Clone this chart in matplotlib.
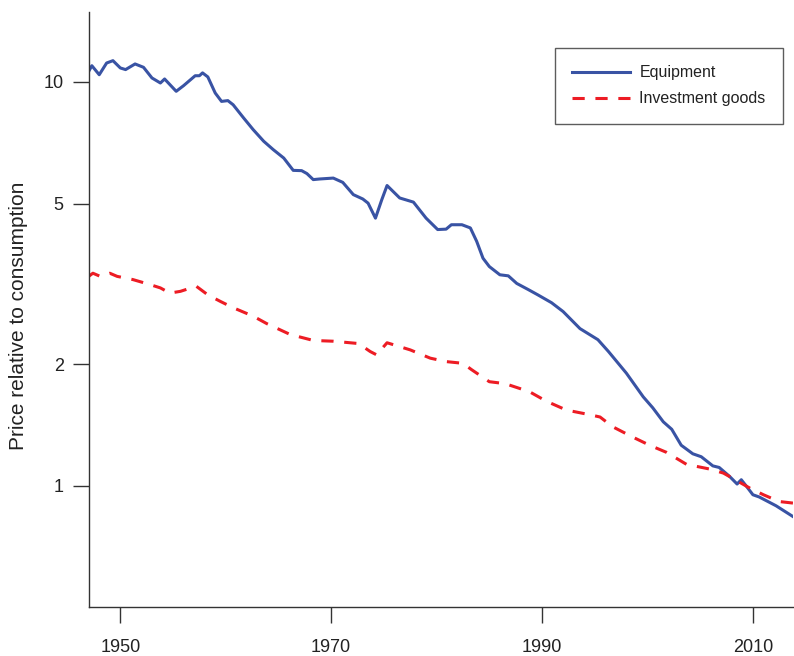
import numpy as np
import matplotlib
matplotlib.use('Agg')
from matplotlib import pyplot as plt

# values
equip_years = [1947.0, 1947.3, 1948.0, 1948.7, 1949.3, 1950.0, 1950.5, 1951.4, 1952.2, 1953.0,
               1953.8, 1954.2, 1954.7, 1955.3, 1956.0, 1957.1, 1957.5, 1957.8, 1958.3, 1959.0,
               1959.6, 1960.2, 1960.7, 1961.7, 1962.6, 1963.6, 1964.5, 1965.5, 1966.4, 1967.2,
               1967.7, 1968.3, 1968.9, 1970.2, 1971.1, 1972.1, 1973.0, 1973.5, 1974.2, 1974.8,
               1975.3, 1976.5, 1977.8, 1979.0, 1980.1, 1980.9, 1981.4, 1982.4, 1983.2, 1983.8,
               1984.4, 1985.0, 1986.0, 1986.8, 1987.6, 1988.7, 1989.6, 1990.9, 1992.0, 1993.6,
               1995.3, 1996.3, 1998.0, 1999.6, 2000.5, 2001.5, 2002.3, 2003.2, 2004.3, 2005.1,
               2006.2, 2006.8, 2007.8, 2008.5, 2008.9, 2009.4, 2010.0, 2010.6, 2012.2, 2013.8]
equipment = [10.62, 10.97, 10.42, 11.14, 11.29, 10.83, 10.73, 11.08, 10.87, 10.23,
             9.94, 10.17, 9.85, 9.48, 9.79, 10.36, 10.36, 10.53, 10.29, 9.39,
             8.95, 8.99, 8.78, 8.14, 7.62, 7.13, 6.80, 6.48, 6.04, 6.03,
             5.93, 5.73, 5.75, 5.78, 5.64, 5.26, 5.13, 5.01, 4.60, 5.11,
             5.54, 5.16, 5.04, 4.60, 4.31, 4.32, 4.43, 4.43, 4.35, 4.03,
             3.66, 3.49, 3.33, 3.31, 3.17, 3.06, 2.97, 2.84, 2.70, 2.45,
             2.30, 2.15, 1.90, 1.66, 1.56, 1.44, 1.38, 1.26, 1.20, 1.18,
             1.12, 1.11, 1.054, 1.01, 1.035, 0.996, 0.950, 0.938, 0.892, 0.839]

invest_years = [1947.0, 1947.4, 1948.1, 1949.0, 1949.7, 1951.2, 1952.8, 1953.8, 1954.7, 1955.7,
                1957.2, 1958.3, 1959.5, 1960.7, 1962.6, 1963.9, 1966.1, 1968.3, 1970.2, 1972.6,
                1973.7, 1974.3, 1975.3, 1977.5, 1979.4, 1980.9, 1982.5, 1983.3, 1985.0, 1986.5,
                1988.8, 1990.4, 1992.3, 1994.5, 1995.5, 1996.7, 1998.6, 2000.2, 2001.8, 2003.7,
                2005.9, 2007.2, 2008.6, 2009.7, 2011.0, 2012.5, 2013.8]
investment = [3.30, 3.36, 3.30, 3.36, 3.30, 3.24, 3.15, 3.09, 3.00, 3.03,
              3.12, 2.97, 2.86, 2.76, 2.63, 2.52, 2.37, 2.29, 2.28, 2.25,
              2.15, 2.11, 2.26, 2.17, 2.07, 2.03, 2.01, 1.94, 1.81, 1.79,
              1.71, 1.62, 1.54, 1.50, 1.48, 1.40, 1.32, 1.26, 1.21, 1.13,
              1.10, 1.075, 1.025, 0.987, 0.950, 0.914, 0.906]

x_ticks = [1950, 1970, 1990, 2010]
y_ticks = [1, 2, 5, 10]

plt.rcParams['font.family'] = ['Liberation Sans', 'DejaVu Sans']

fig = plt.figure(figsize=(7.94, 6.56), dpi=100)
ax = fig.add_axes([0.1117, 0.0742, 0.887, 0.9075])

ax.plot(equip_years, equipment, color='#3953a4', lw=2.2, solid_joinstyle='round',
        label='Equipment')
ax.plot(invest_years, investment, color='#ed1c24', lw=2.2, linestyle=(0, (4, 3.5)),
        dash_joinstyle='round', label='Investment goods')

ax.set_yscale('log')
ax.set_xlim(1947.0, 2013.8)
ax.set_ylim(0.5, 14.9)
ax.set_xticks(x_ticks)
ax.set_xticklabels([str(t) for t in x_ticks])
ax.set_yticks(y_ticks)
ax.set_yticklabels([str(t) for t in y_ticks])
ax.yaxis.set_minor_locator(matplotlib.ticker.NullLocator())

for s in ['top', 'right']:
    ax.spines[s].set_visible(False)
for s in ['left', 'bottom']:
    ax.spines[s].set_color('#333333')
    ax.spines[s].set_linewidth(1.0)

ax.tick_params(axis='both', direction='out', length=11.5, width=1.0, color='#333333',
               labelsize=13, labelcolor='#222222')
ax.tick_params(axis='x', pad=11)
ax.tick_params(axis='y', pad=6.5)

ax.set_ylabel('Price relative to consumption', fontsize=15, color='#222222')
ax.yaxis.set_label_coords(-0.086, 0.49)

leg = ax.legend(loc='upper right', bbox_to_anchor=(0.986, 0.940), fontsize=11.5,
                frameon=True, fancybox=False, edgecolor='#333333', handlelength=3.6,
                handletextpad=0.6, borderpad=1.1, labelspacing=0.7, borderaxespad=0)
leg.get_frame().set_linewidth(1.0)
for t in leg.get_texts():
    t.set_color('#222222')

fig.savefig('out.png', dpi=100)
